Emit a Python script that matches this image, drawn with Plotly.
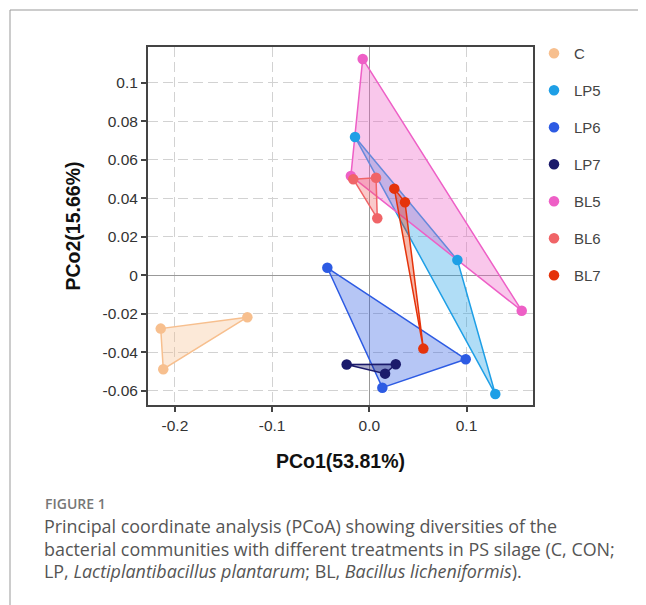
import plotly.graph_objects as go

# ---- data ----
groups = ["C", "LP5", "LP6", "LP7", "BL5", "BL6", "BL7"]
colors = ["#F7BF8E", "#1E9FE6", "#2D5BE3", "#1B1A6B", "#EE5FC6", "#F06467", "#E5330B"]

c_x = [-0.1255, -0.2146, -0.2120]
c_y = [-0.0217, -0.0276, -0.0487]
lp5_x = [-0.0147, 0.0906, 0.1296]
lp5_y = [0.0719, 0.0080, -0.0616]
lp6_x = [-0.0432, 0.0992, 0.0134]
lp6_y = [0.0040, -0.0435, -0.0583]
lp7_x = [-0.0233, 0.0272, 0.0162]
lp7_y = [-0.0463, -0.0461, -0.0510]
bl5_x = [-0.0068, 0.1568, -0.0190]
bl5_y = [0.1125, -0.0183, 0.0517]
bl6_x = [-0.0165, 0.0069, 0.0082]
bl6_y = [0.0500, 0.0508, 0.0297]
bl7_x = [0.0257, 0.0367, 0.0556]
bl7_y = [0.0451, 0.0380, -0.0380]

xs = [c_x, lp5_x, lp6_x, lp7_x, bl5_x, bl6_x, bl7_x]
ys = [c_y, lp5_y, lp6_y, lp7_y, bl5_y, bl6_y, bl7_y]

x_ticks = [-0.2, -0.1, 0.0, 0.1]
x_ticklabels = ["-0.2", "-0.1", "0.0", "0.1"]
y_ticks = [-0.06, -0.04, -0.02, 0, 0.02, 0.04, 0.06, 0.08, 0.1]
y_ticklabels = ["-0.06", "-0.04", "-0.02", "0", "0.02", "0.04", "0.06", "0.08", "0.1"]

caption_head = "FIGURE 1"
caption_lines = [
    "Principal coordinate analysis (PCoA) showing diversities of the",
    "bacterial communities with different treatments in PS silage (C, CON;",
    "LP, <i>Lactiplantibacillus plantarum</i>; BL, <i>Bacillus licheniformis</i>).",
]

def rgba(hexc, a):
    h = hexc.lstrip("#")
    r, g, b = int(h[0:2], 16), int(h[2:4], 16), int(h[4:6], 16)
    return f"rgba({r},{g},{b},{a})"

fig = go.Figure()

# polygons
for name, col, gx, gy in zip(groups, colors, xs, ys):
    fig.add_trace(go.Scatter(
        x=gx + [gx[0]], y=gy + [gy[0]], mode="lines", fill="toself",
        fillcolor=rgba(col, 0.35), line=dict(color=col, width=1.5),
        legendgroup=name, showlegend=False, hoverinfo="skip"))
# points
for name, col, gx, gy in zip(groups, colors, xs, ys):
    fig.add_trace(go.Scatter(
        x=gx, y=gy, mode="markers", name=name, legendgroup=name,
        marker=dict(color=col, size=10.5)))

# page has an 8px body margin: the figure starts at page (8, 8)
OFF = 8
PAGE_W, PAGE_H = 646, 605
W, H = PAGE_W - OFF, PAGE_H - OFF
L, R, T, B = 148, 533, 47, 405          # plot area in page pixels
pw, ph = R - L, B - T

def px(x):
    return (x - L) / pw

def py(y):
    return (B - y) / ph

axis_font = dict(family="Liberation Sans, Arial", size=15.5, color="#333")
title_font = dict(family="Liberation Sans, Arial", size=19.5, color="#111", weight="bold")

fig.update_layout(
    width=W, height=H,
    margin=dict(l=L - OFF, r=PAGE_W - R, t=T - OFF, b=PAGE_H - B, pad=0),
    paper_bgcolor="white", plot_bgcolor="white",
    font=dict(family="Liberation Sans, Arial", size=13, color="#333"),
    xaxis=dict(
        range=[-0.2277, 0.1684], tickvals=x_ticks, ticktext=x_ticklabels,
        showgrid=True, gridcolor="#D2D2D2", griddash="10px,5px", gridwidth=1,
        zeroline=True, zerolinecolor="#999", zerolinewidth=1,
        showline=True, linecolor="#444", linewidth=2, mirror=True,
        ticks="outside", ticklen=5, tickcolor="#444", tickwidth=1.5,
        tickfont=axis_font,
        title=dict(text="PCo1(53.81%)", font=title_font, standoff=22),
    ),
    yaxis=dict(
        range=[-0.0673, 0.1187], tickvals=y_ticks, ticktext=y_ticklabels,
        showgrid=True, gridcolor="#D2D2D2", griddash="10px,5px", gridwidth=1,
        zeroline=True, zerolinecolor="#999", zerolinewidth=1,
        showline=True, linecolor="#444", linewidth=2, mirror=True,
        ticks="outside", ticklen=5, tickcolor="#444", tickwidth=1.5,
        tickfont=axis_font,
        title=dict(text="PCo2(15.66%)", font=title_font, standoff=17),
    ),
    legend=dict(
        x=px(534), y=py(37), xanchor="left", yanchor="top",
        font=dict(family="Liberation Sans, Arial", size=15, color="#444"),
        tracegroupgap=14.5, itemwidth=30, bgcolor="rgba(0,0,0,0)",
    ),
    showlegend=True,
)

# outer frame lines (top and left)
fig.add_shape(type="line", xref="paper", yref="paper",
              x0=px(10), x1=px(660), y0=py(10), y1=py(10),
              line=dict(color="#999", width=1))
fig.add_shape(type="line", xref="paper", yref="paper",
              x0=px(10), x1=px(10), y0=py(10), y1=py(620),
              line=dict(color="#999", width=1))

cap_font = dict(family="Open Sans", size=17.9, color="#555")
fig.add_annotation(text=caption_head, xref="paper", yref="paper",
                   x=px(43), y=py(503), xanchor="left", yanchor="middle",
                   showarrow=False,
                   font=dict(family="Open Sans", size=14, color="#777", weight=600))
for i, line in enumerate(caption_lines):
    fig.add_annotation(text=line, xref="paper", yref="paper",
                       x=px(42), y=py(526 + 22.5 * i), xanchor="left", yanchor="middle",
                       showarrow=False, font=cap_font)

fig.write_html("out.html")
